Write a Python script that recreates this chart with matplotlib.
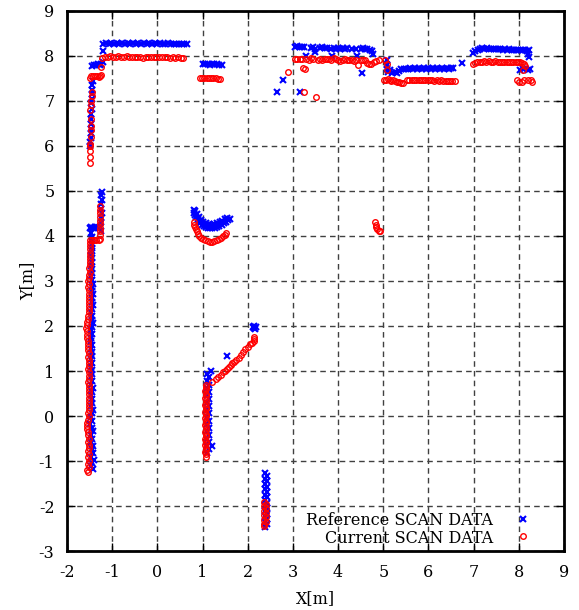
import matplotlib
matplotlib.use("Agg")
import matplotlib.pyplot as plt

plt.rcParams['font.family'] = ['DejaVu Serif']
plt.rcParams['font.size'] = 11.5
plt.rcParams['axes.unicode_minus'] = False

# ---- reference scan (blue x) ----
ref_left_wall = [
    (-1.42, -1.18), (-1.47, -1.12), (-1.44, -1.05), (-1.41, -0.98), (-1.46, -0.90),
    (-1.43, -0.82), (-1.45, -0.74), (-1.42, -0.66), (-1.47, -0.58), (-1.44, -0.50),
    (-1.46, -0.42), (-1.43, -0.34), (-1.45, -0.26), (-1.48, -0.18), (-1.44, -0.10),
    (-1.46, -0.02), (-1.45, 0.06), (-1.43, 0.14), (-1.47, 0.22), (-1.45, 0.30),
    (-1.44, 0.38), (-1.46, 0.46), (-1.45, 0.54), (-1.43, 0.62), (-1.46, 0.70),
    (-1.44, 0.78), (-1.47, 0.86), (-1.45, 0.94), (-1.44, 1.02), (-1.46, 1.10),
    (-1.45, 1.18), (-1.47, 1.26), (-1.45, 1.34), (-1.44, 1.42), (-1.46, 1.50),
    (-1.45, 1.58), (-1.47, 1.66), (-1.46, 1.74), (-1.44, 1.82), (-1.46, 1.90),
    (-1.45, 1.98), (-1.43, 2.06), (-1.45, 2.14), (-1.44, 2.22), (-1.46, 2.30),
    (-1.45, 2.38), (-1.43, 2.46), (-1.44, 2.54), (-1.45, 2.62), (-1.43, 2.70),
    (-1.44, 2.78), (-1.45, 2.86), (-1.43, 2.94), (-1.44, 3.02), (-1.46, 3.10),
    (-1.45, 3.18), (-1.44, 3.26), (-1.46, 3.34), (-1.45, 3.42), (-1.44, 3.50),
    (-1.46, 3.58), (-1.45, 3.66), (-1.44, 3.74), (-1.45, 3.82), (-1.44, 3.90),
    (-1.45, 3.98), (-1.46, 4.06),
]
ref_left_step = [
    (-1.50, 4.17), (-1.46, 4.19), (-1.42, 4.18), (-1.38, 4.20), (-1.34, 4.19),
    (-1.30, 4.18), (-1.26, 4.17), (-1.25, 4.10), (-1.26, 4.20), (-1.24, 4.30),
    (-1.25, 4.40), (-1.23, 4.50), (-1.25, 4.60), (-1.24, 4.70), (-1.23, 4.80),
    (-1.24, 4.90), (-1.23, 4.98),
]
ref_top_left = [
    (-1.49, 6.00), (-1.48, 6.08), (-1.47, 6.18), (-1.46, 6.28), (-1.47, 6.38),
    (-1.46, 6.48), (-1.47, 6.60), (-1.46, 6.70), (-1.45, 6.82), (-1.46, 6.95),
    (-1.45, 7.05), (-1.44, 7.15), (-1.45, 7.25), (-1.44, 7.35), (-1.43, 7.45),
    (-1.44, 7.78), (-1.40, 7.80), (-1.36, 7.80), (-1.32, 7.82), (-1.28, 7.81),
    (-1.24, 7.83), (-1.21, 7.86), (-1.20, 8.12),
    (-1.20, 8.27), (-1.14, 8.29), (-1.08, 8.27), (-1.02, 8.28), (-0.96, 8.26),
    (-0.90, 8.28), (-0.84, 8.27), (-0.78, 8.29), (-0.72, 8.27), (-0.66, 8.28),
    (-0.60, 8.26), (-0.54, 8.28), (-0.48, 8.27), (-0.42, 8.29), (-0.36, 8.27),
    (-0.30, 8.28), (-0.24, 8.27), (-0.18, 8.28), (-0.12, 8.26), (-0.06, 8.28),
    (0.00, 8.27), (0.06, 8.28), (0.12, 8.26), (0.18, 8.27), (0.24, 8.28),
    (0.30, 8.27), (0.36, 8.26), (0.42, 8.27), (0.48, 8.26), (0.54, 8.27),
    (0.60, 8.26), (0.66, 8.26),
]
ref_door_top = [
    (1.01, 7.82), (1.06, 7.83), (1.11, 7.82), (1.16, 7.81), (1.21, 7.82),
    (1.26, 7.83), (1.31, 7.82), (1.36, 7.81), (1.42, 7.80),
]
ref_top_mid = [
    (2.64, 7.21), (2.79, 7.47), (3.16, 7.19), (3.29, 8.01), (3.49, 8.08),
    (3.86, 8.00), (4.41, 8.00), (4.54, 7.63), (4.77, 8.05),
    (3.05, 8.20), (3.10, 8.22), (3.15, 8.21), (3.20, 8.20), (3.25, 8.19),
    (3.40, 8.18), (3.45, 8.19), (3.50, 8.15), (3.60, 8.18), (3.65, 8.19),
    (3.70, 8.17), (3.75, 8.18), (3.85, 8.16), (3.90, 8.17), (3.95, 8.15),
    (4.00, 8.17), (4.05, 8.16), (4.10, 8.17), (4.15, 8.16), (4.20, 8.17),
    (4.30, 8.16), (4.40, 8.15), (4.50, 8.16), (4.55, 8.17), (4.60, 8.15),
    (4.65, 8.16), (4.70, 8.14), (4.75, 8.12),
]
ref_top_recess = [
    (5.08, 7.90), (5.08, 7.80), (5.09, 7.70), (5.10, 7.65), (5.15, 7.68),
    (5.20, 7.62), (5.25, 7.65), (5.30, 7.63), (5.35, 7.66), (5.40, 7.70),
    (5.45, 7.72), (5.50, 7.70), (5.55, 7.72), (5.60, 7.73), (5.65, 7.72),
    (5.70, 7.73), (5.75, 7.72), (5.80, 7.73), (5.85, 7.72), (5.90, 7.73),
    (5.95, 7.72), (6.00, 7.73), (6.05, 7.72), (6.10, 7.73), (6.15, 7.72),
    (6.20, 7.73), (6.25, 7.72), (6.30, 7.73), (6.35, 7.72), (6.40, 7.73),
    (6.45, 7.72), (6.50, 7.73), (6.55, 7.74), (6.74, 7.84),
]
ref_top_right = [
    (6.99, 8.07), (7.04, 8.12), (7.09, 8.14), (7.14, 8.16), (7.19, 8.17),
    (7.24, 8.16), (7.29, 8.17), (7.34, 8.16), (7.39, 8.15), (7.44, 8.16),
    (7.49, 8.15), (7.54, 8.16), (7.59, 8.15), (7.64, 8.14), (7.69, 8.15),
    (7.74, 8.14), (7.79, 8.15), (7.84, 8.14), (7.89, 8.13), (7.94, 8.14),
    (7.99, 8.13), (8.04, 8.14), (8.09, 8.13), (8.14, 8.14), (8.19, 8.12),
    (8.22, 8.13), (8.20, 8.05), (8.22, 7.98), (8.03, 7.69), (8.10, 7.70),
    (8.20, 7.68), (8.25, 7.70),
]
ref_pillar = [
    (0.80, 4.58), (0.82, 4.52), (0.84, 4.47), (0.86, 4.42), (0.89, 4.37),
    (0.92, 4.33), (0.95, 4.29), (0.99, 4.25), (1.03, 4.22), (1.07, 4.20),
    (1.12, 4.18), (1.17, 4.17), (1.22, 4.17), (1.27, 4.18), (1.32, 4.20),
    (1.37, 4.22), (1.42, 4.25), (1.47, 4.28), (1.52, 4.31), (1.56, 4.35),
    (1.60, 4.38), (0.84, 4.55), (0.88, 4.48), (0.92, 4.42), (0.97, 4.36),
    (1.02, 4.31), (1.08, 4.28), (1.14, 4.26), (1.20, 4.25), (1.26, 4.26),
    (1.32, 4.28), (1.38, 4.30), (1.44, 4.33), (1.50, 4.37), (1.55, 4.41),
]
ref_mid_wall = [
    (1.10, -0.82), (1.14, -0.74), (1.10, -0.66), (1.14, -0.58), (1.10, -0.50),
    (1.14, -0.42), (1.10, -0.34), (1.14, -0.26), (1.10, -0.18), (1.14, -0.10),
    (1.10, -0.02), (1.14, 0.06), (1.10, 0.14), (1.14, 0.22), (1.10, 0.30),
    (1.14, 0.38), (1.10, 0.46), (1.14, 0.54), (1.10, 0.62), (1.14, 0.70),
    (1.10, 0.78), (1.14, 0.86), (1.10, 0.94), (1.18, 1.01), (1.22, -0.67),
    (1.55, 1.34), (2.14, 1.95), (2.12, 1.98), (2.17, 1.93), (2.15, 2.00),
    (2.18, 1.97),
]
ref_bottom_post = [
    (2.38, -1.27), (2.42, -1.33), (2.38, -1.39), (2.42, -1.45), (2.38, -1.51),
    (2.42, -1.57), (2.38, -1.63), (2.42, -1.69), (2.38, -1.75), (2.42, -1.81),
    (2.38, -1.87), (2.42, -1.93), (2.38, -1.99), (2.42, -2.05), (2.38, -2.11),
    (2.42, -2.17), (2.38, -2.23), (2.42, -2.29), (2.38, -2.35), (2.42, -2.41),
    (2.38, -2.47),
]

# ---- current scan (red o) ----
cur_left_wall = [
    (-1.53, -1.25), (-1.55, -1.19), (-1.52, -1.13), (-1.54, -1.06), (-1.51, -0.99),
    (-1.53, -0.92), (-1.52, -0.85), (-1.54, -0.78), (-1.52, -0.71), (-1.51, -0.64),
    (-1.53, -0.57), (-1.52, -0.50), (-1.54, -0.43), (-1.53, -0.36), (-1.55, -0.29),
    (-1.56, -0.22), (-1.55, -0.15), (-1.53, -0.08), (-1.52, -0.01), (-1.53, 0.06),
    (-1.52, 0.13), (-1.51, 0.20), (-1.52, 0.27), (-1.51, 0.34), (-1.52, 0.41),
    (-1.51, 0.48), (-1.52, 0.55), (-1.51, 0.62), (-1.52, 0.69), (-1.53, 0.76),
    (-1.52, 0.83), (-1.51, 0.90), (-1.52, 0.97), (-1.53, 1.04), (-1.52, 1.11),
    (-1.51, 1.18), (-1.52, 1.25), (-1.53, 1.32), (-1.52, 1.39), (-1.53, 1.46),
    (-1.54, 1.53), (-1.53, 1.60), (-1.54, 1.67), (-1.55, 1.74), (-1.56, 1.81),
    (-1.56, 1.88), (-1.57, 1.95), (-1.56, 2.02), (-1.55, 2.09), (-1.54, 2.16),
    (-1.53, 2.23), (-1.52, 2.30), (-1.52, 2.37), (-1.51, 2.44), (-1.52, 2.51),
    (-1.51, 2.58), (-1.52, 2.65), (-1.51, 2.72), (-1.52, 2.79), (-1.53, 2.86),
    (-1.52, 2.93), (-1.53, 3.00), (-1.52, 3.07), (-1.51, 3.14), (-1.50, 3.21),
    (-1.51, 3.28), (-1.50, 3.35), (-1.49, 3.42), (-1.50, 3.49), (-1.49, 3.56),
    (-1.50, 3.63), (-1.49, 3.70), (-1.48, 3.77), (-1.49, 3.84),
]
cur_left_step = [
    (-1.50, 3.90), (-1.45, 3.91), (-1.40, 3.92), (-1.35, 3.91), (-1.30, 3.90),
    (-1.27, 3.93), (-1.27, 4.02), (-1.28, 4.10), (-1.26, 4.18), (-1.27, 4.26),
    (-1.28, 4.34), (-1.26, 4.42), (-1.27, 4.50), (-1.26, 4.58), (-1.27, 4.66),
]
cur_top_left = [
    (-1.50, 5.62), (-1.50, 5.75), (-1.50, 5.88), (-1.49, 6.00), (-1.48, 6.05),
    (-1.47, 6.20), (-1.47, 6.35), (-1.46, 6.45), (-1.46, 6.60), (-1.50, 6.80),
    (-1.47, 6.90), (-1.46, 7.00), (-1.44, 7.10), (-1.44, 7.20),
    (-1.49, 7.52), (-1.46, 7.55), (-1.42, 7.56), (-1.38, 7.55), (-1.34, 7.55),
    (-1.30, 7.54), (-1.26, 7.56), (-1.24, 7.58), (-1.25, 7.76),
    (-1.22, 7.96), (-1.16, 7.98), (-1.10, 7.98), (-1.04, 7.99), (-0.98, 7.98),
    (-0.92, 7.98), (-0.86, 7.99), (-0.80, 7.98), (-0.74, 7.98), (-0.68, 7.99),
    (-0.62, 7.98), (-0.56, 7.98), (-0.50, 7.97), (-0.44, 7.98), (-0.38, 7.98),
    (-0.32, 7.96), (-0.26, 7.98), (-0.20, 7.98), (-0.14, 7.97), (-0.08, 7.98),
    (-0.02, 7.98), (0.04, 7.97), (0.10, 7.98), (0.16, 7.97), (0.22, 7.97),
    (0.28, 7.96), (0.34, 7.97), (0.40, 7.96), (0.46, 7.97), (0.52, 7.96),
    (0.57, 7.96),
]
cur_door_top = [
    (0.94, 7.50), (0.99, 7.50), (1.04, 7.51), (1.09, 7.50), (1.14, 7.50),
    (1.19, 7.51), (1.24, 7.50), (1.29, 7.50), (1.34, 7.49), (1.38, 7.48),
]
cur_top_mid = [
    (2.90, 7.64), (3.05, 7.93), (3.10, 7.93), (3.15, 7.94), (3.20, 7.93),
    (3.22, 7.73), (3.27, 7.70), (3.24, 7.21), (3.30, 7.93), (3.35, 7.92),
    (3.40, 7.95), (3.45, 7.93), (3.51, 7.08), (3.55, 7.92), (3.60, 7.93),
    (3.65, 7.92), (3.70, 7.94), (3.75, 7.93), (3.80, 7.93), (3.85, 7.92),
    (3.90, 7.95), (3.95, 7.93), (4.00, 7.90), (4.05, 7.88), (4.10, 7.92),
    (4.15, 7.93), (4.20, 7.91), (4.25, 7.92), (4.30, 7.90), (4.35, 7.88),
    (4.40, 7.91), (4.44, 7.80), (4.50, 7.90), (4.55, 7.92), (4.60, 7.90),
    (4.63, 7.84), (4.68, 7.83), (4.72, 7.82), (4.80, 7.86), (4.85, 7.88),
    (4.90, 7.92),
]
cur_top_recess = [
    (5.04, 7.91), (5.08, 7.82), (5.08, 7.69),
    (5.02, 7.47), (5.06, 7.46), (5.10, 7.48), (5.14, 7.46), (5.18, 7.45),
    (5.22, 7.47), (5.26, 7.44), (5.30, 7.42), (5.34, 7.42), (5.40, 7.41),
    (5.44, 7.40), (5.53, 7.47), (5.58, 7.46), (5.63, 7.47), (5.68, 7.47),
    (5.73, 7.46), (5.78, 7.47), (5.83, 7.47), (5.88, 7.46), (5.93, 7.46),
    (5.98, 7.47), (6.03, 7.46), (6.08, 7.47), (6.13, 7.45), (6.18, 7.46),
    (6.23, 7.45), (6.28, 7.46), (6.33, 7.44), (6.38, 7.45), (6.43, 7.44),
    (6.48, 7.45), (6.53, 7.44), (6.58, 7.44),
]
cur_top_right = [
    (6.99, 7.82), (7.03, 7.85), (7.08, 7.86), (7.13, 7.87), (7.18, 7.87),
    (7.23, 7.88), (7.28, 7.86), (7.33, 7.88), (7.38, 7.87), (7.43, 7.86),
    (7.48, 7.88), (7.53, 7.87), (7.58, 7.86), (7.63, 7.87), (7.68, 7.86),
    (7.73, 7.87), (7.78, 7.86), (7.83, 7.87), (7.88, 7.86), (7.93, 7.87),
    (7.98, 7.86), (8.03, 7.87), (8.08, 7.85), (8.12, 7.82), (8.14, 7.78),
    (8.09, 7.69), (7.96, 7.47), (8.00, 7.43), (8.06, 7.42), (8.12, 7.46),
    (8.20, 7.47), (8.27, 7.46), (8.30, 7.43),
]
cur_pillar = [
    (0.80, 4.30), (0.81, 4.25), (0.83, 4.20), (0.85, 4.15), (0.87, 4.10),
    (0.90, 4.05), (0.93, 4.00), (0.97, 3.96), (1.01, 3.93), (1.06, 3.90),
    (1.11, 3.88), (1.16, 3.87), (1.21, 3.87), (1.26, 3.88), (1.31, 3.90),
    (1.36, 3.93), (1.41, 3.96), (1.46, 4.00), (1.50, 4.03), (1.53, 4.06),
]
cur_mid_wall = [
    (1.07, -0.90), (1.08, -0.85), (1.06, -0.80), (1.08, -0.75), (1.07, -0.70),
    (1.06, -0.65), (1.08, -0.60), (1.07, -0.55), (1.06, -0.50), (1.08, -0.45),
    (1.07, -0.40), (1.06, -0.35), (1.08, -0.30), (1.07, -0.25), (1.06, -0.20),
    (1.08, -0.15), (1.07, -0.10), (1.06, -0.05), (1.08, 0.00), (1.07, 0.05),
    (1.06, 0.10), (1.08, 0.15), (1.07, 0.20), (1.06, 0.25), (1.08, 0.30),
    (1.07, 0.35), (1.06, 0.40), (1.08, 0.45), (1.07, 0.50), (1.06, 0.55),
    (1.08, 0.60), (1.07, 0.65), (1.08, 0.69),
    (1.20, 0.76), (1.30, 0.83), (1.35, 0.87), (1.40, 0.92), (1.45, 0.97),
    (1.50, 1.01), (1.54, 1.05), (1.58, 1.09), (1.62, 1.13), (1.66, 1.17),
    (1.70, 1.21), (1.75, 1.25), (1.80, 1.30), (1.85, 1.36), (1.90, 1.42),
    (1.95, 1.48), (2.00, 1.53), (2.05, 1.59), (2.10, 1.63), (2.13, 1.67),
    (2.14, 1.71), (2.15, 1.75),
]
cur_bottom_post = [
    (2.37, -1.90), (2.40, -1.95), (2.37, -2.00), (2.40, -2.05), (2.37, -2.10),
    (2.40, -2.15), (2.37, -2.20), (2.40, -2.25), (2.37, -2.30), (2.40, -2.35),
    (2.37, -2.40), (2.36, -2.45),
]
cur_far_corner = [
    (4.82, 4.32), (4.83, 4.25), (4.85, 4.20), (4.87, 4.15), (4.90, 4.12),
    (4.92, 4.10),
]

reference_scan = (ref_left_wall + ref_left_step + ref_top_left + ref_door_top
                  + ref_top_mid + ref_top_recess + ref_top_right + ref_pillar
                  + ref_mid_wall + ref_bottom_post)
current_scan = (cur_left_wall + cur_left_step + cur_top_left + cur_door_top
                + cur_top_mid + cur_top_recess + cur_top_right + cur_pillar
                + cur_mid_wall + cur_bottom_post + cur_far_corner)

ref_x, ref_y = zip(*reference_scan)
cur_x, cur_y = zip(*current_scan)

blue_style = dict(linestyle='none', marker='x', color='#0000ff',
                  markersize=4.5, markeredgewidth=1.5)
red_style = dict(linestyle='none', marker='o', markerfacecolor='none',
                 markeredgecolor='#ff0000', markersize=4, markeredgewidth=1.0)

fig = plt.figure(figsize=(5.79, 6.10), dpi=100)
ax = fig.add_axes([0.1157, 0.0967, 0.8584, 0.8853])

ax.plot(ref_x, ref_y, **blue_style)
ax.plot(cur_x, cur_y, **red_style)

ax.set_xlim(-2, 9)
ax.set_ylim(-3, 9)
ax.set_xticks(range(-2, 10))
ax.set_yticks(range(-3, 10))
ax.grid(True, color='0.25', linestyle=(0, (4, 3)), linewidth=1.0)
ax.set_axisbelow(True)
ax.tick_params(direction='in', length=6, width=1, top=True, right=True, pad=9)
for s in ax.spines.values():
    s.set_linewidth(2)

ax.set_xlabel('X[m]', labelpad=7)
ax.set_ylabel('Y[m]', labelpad=2)

# gnuplot-style key: right-aligned labels with the sample to the right
key_rows = [('Reference SCAN DATA', blue_style, 0.056),
            ('Current SCAN DATA', red_style, 0.023)]
for label, style, ky in key_rows:
    ax.text(0.857, ky, label, transform=ax.transAxes, ha='right', va='center')
    ax.plot([0.9175], [ky + 0.004], transform=ax.transAxes, clip_on=False, **style)

fig.savefig('out.png', dpi=100)
